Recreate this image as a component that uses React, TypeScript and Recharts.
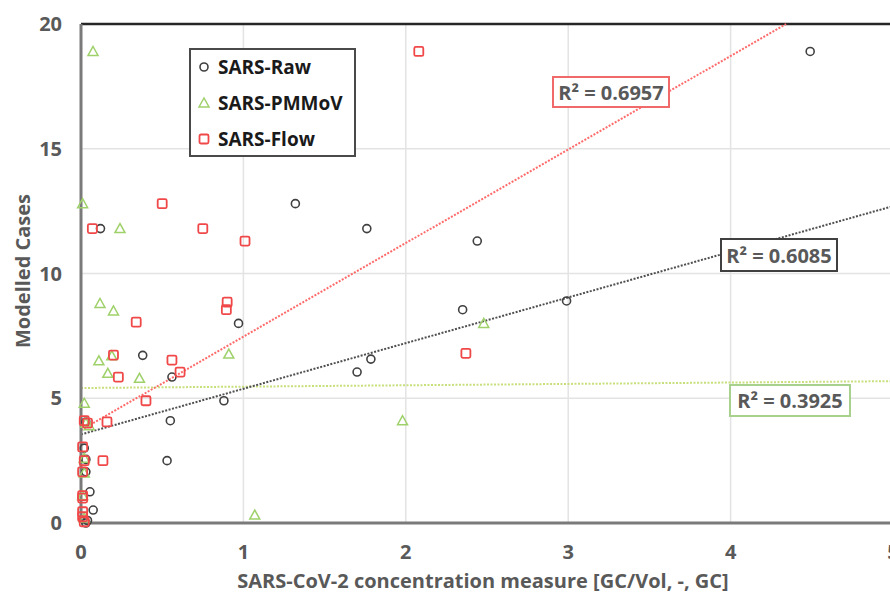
import React from "react";
import { ScatterChart, Scatter, XAxis, YAxis, CartesianGrid, ReferenceLine } from "recharts";

const xTicks = [0, 1, 2, 3, 4, 5];
const yTicks = [0, 5, 10, 15, 20];

const rawData = [
  { x: 4.49, y: 18.9 }, { x: 1.32, y: 12.8 }, { x: 1.76, y: 11.8 }, { x: 2.44, y: 11.3 },
  { x: 0.12, y: 11.8 }, { x: 2.35, y: 8.55 }, { x: 2.99, y: 8.9 }, { x: 0.97, y: 8.0 },
  { x: 0.38, y: 6.72 }, { x: 1.7, y: 6.05 }, { x: 1.785, y: 6.57 }, { x: 0.56, y: 5.85 },
  { x: 0.88, y: 4.9 }, { x: 0.55, y: 4.1 }, { x: 0.53, y: 2.5 }, { x: 0.03, y: 4.05 },
  { x: 0.02, y: 3.0 }, { x: 0.03, y: 2.55 }, { x: 0.03, y: 2.05 }, { x: 0.055, y: 1.25 },
  { x: 0.075, y: 0.52 }, { x: 0.04, y: 0.1 }, { x: 0.03, y: 0.0 },
];

const pmmovData = [
  { x: 0.074, y: 18.9 }, { x: 0.01, y: 12.8 }, { x: 0.24, y: 11.8 }, { x: 0.117, y: 8.8 },
  { x: 0.2, y: 8.5 }, { x: 0.11, y: 6.5 }, { x: 0.19, y: 6.7 }, { x: 0.165, y: 6.0 },
  { x: 0.36, y: 5.8 }, { x: 0.91, y: 6.77 }, { x: 2.48, y: 8.0 }, { x: 1.98, y: 4.1 },
  { x: 1.07, y: 0.32 }, { x: 0.02, y: 4.8 }, { x: 0.03, y: 4.0 }, { x: 0.05, y: 3.9 },
  { x: 0.02, y: 2.6 }, { x: 0.02, y: 2.0 }, { x: 0.01, y: 1.1 }, { x: 0.02, y: 0.2 },
];

const flowData = [
  { x: 2.08, y: 18.9 }, { x: 0.5, y: 12.8 }, { x: 0.07, y: 11.8 }, { x: 0.75, y: 11.8 },
  { x: 1.01, y: 11.3 }, { x: 0.9, y: 8.85 }, { x: 0.895, y: 8.55 }, { x: 0.34, y: 8.05 },
  { x: 0.2, y: 6.73 }, { x: 0.56, y: 6.53 }, { x: 0.61, y: 6.05 }, { x: 0.23, y: 5.85 },
  { x: 0.4, y: 4.9 }, { x: 0.16, y: 4.05 }, { x: 0.135, y: 2.5 }, { x: 2.37, y: 6.8 },
  { x: 0.02, y: 4.1 }, { x: 0.04, y: 4.0 }, { x: 0.01, y: 3.05 }, { x: 0.02, y: 2.5 },
  { x: 0.01, y: 2.05 }, { x: 0.01, y: 1.1 }, { x: 0.01, y: 1.0 }, { x: 0.01, y: 0.45 },
  { x: 0.01, y: 0.25 }, { x: 0.02, y: 0.05 },
];

// trendline intercept, slope
const rawTrend = [3.55, 1.83];
const pmmovTrend = [5.41, 0.055];
const flowTrend = [3.72, 3.75];
const r2Labels = ["R² = 0.6085", "R² = 0.3925", "R² = 0.6957"];

const RAW_C = "#404040";
const PM_C = "#9fd16a";
const FLOW_C = "#f04848";
const TEXT_C = "#595959";
const FONT = "'Open Sans', 'Noto Sans', sans-serif";

const X_MAX = 5;
const Y_MAX = 20;

function segment(t: number[]) {
  const [b, m] = t;
  let xEnd = X_MAX;
  let yEnd = b + m * X_MAX;
  if (yEnd > Y_MAX) {
    xEnd = (Y_MAX - b) / m;
    yEnd = Y_MAX;
  }
  return [{ x: 0, y: b }, { x: xEnd, y: yEnd }];
}

const CircleShape = (p: any) => (
  <circle cx={p.cx} cy={p.cy} r={4} fill="none" stroke={RAW_C} strokeWidth={1.6} />
);
const TriShape = (p: any) => (
  <polygon
    points={`${p.cx},${p.cy - 5} ${p.cx - 5},${p.cy + 4} ${p.cx + 5},${p.cy + 4}`}
    fill="none"
    stroke={PM_C}
    strokeWidth={1.5}
  />
);
const SquareShape = (p: any) => (
  <rect x={p.cx - 4.5} y={p.cy - 4.5} width={9} height={9} rx={1.5} fill="none" stroke={FLOW_C} strokeWidth={1.8} />
);

const legendItems = [
  { name: "SARS-Raw", Shape: CircleShape },
  { name: "SARS-PMMoV", Shape: TriShape },
  { name: "SARS-Flow", Shape: SquareShape },
];

const boxStyle = (left: number, top: number, w: number, h: number, border: string): React.CSSProperties => ({
  position: "absolute",
  left,
  top,
  width: w,
  height: h,
  boxSizing: "border-box",
  border: `2px solid ${border}`,
  background: "white",
  color: TEXT_C,
  fontFamily: FONT,
  fontWeight: 700,
  fontSize: 20,
  display: "flex",
  alignItems: "center",
  justifyContent: "center",
  whiteSpace: "nowrap",
});

export default function App() {
  const tickStyle = { fill: TEXT_C, fontSize: 20, fontWeight: 700, fontFamily: FONT };
  return (
    <div style={{ position: "fixed", left: 0, top: 0, width: 890, height: 593, overflow: "hidden", background: "white" }}>
      <ScatterChart width={915} height={593} margin={{ top: 24, right: 22, left: 0, bottom: 0 }}>
        <CartesianGrid stroke="#e3e3e3" strokeWidth={1.5} />
        <XAxis
          type="number"
          dataKey="x"
          domain={[0, X_MAX]}
          ticks={xTicks}
          interval={0}
          height={70}
          tickSize={0}
          tickMargin={22}
          tick={tickStyle}
          axisLine={{ stroke: "#7a7a7a", strokeWidth: 3 }}
        />
        <YAxis
          type="number"
          dataKey="y"
          domain={[0, Y_MAX]}
          ticks={yTicks}
          interval={0}
          width={81}
          tickSize={0}
          tickMargin={19}
          tick={tickStyle}
          axisLine={{ stroke: "#7a7a7a", strokeWidth: 3 }}
        />
        <ReferenceLine y={Y_MAX} stroke="#262626" strokeWidth={2.5} />
        <Scatter name="SARS-Raw" data={rawData} shape={CircleShape} isAnimationActive={false} />
        <Scatter name="SARS-PMMoV" data={pmmovData} shape={TriShape} isAnimationActive={false} />
        <Scatter name="SARS-Flow" data={flowData} shape={SquareShape} isAnimationActive={false} />
        <ReferenceLine segment={segment(pmmovTrend)} stroke="#c8e07c" strokeWidth={2} strokeDasharray="2 1.5" />
        <ReferenceLine segment={segment(rawTrend)} stroke="#505050" strokeWidth={2} strokeDasharray="2 1.5" />
        <ReferenceLine segment={segment(flowTrend)} stroke="#ff6a6a" strokeWidth={2} strokeDasharray="2 1.5" />
      </ScatterChart>

      <div
        style={{
          position: "absolute",
          left: 22,
          top: 271,
          transform: "translate(-50%, -50%) rotate(-90deg)",
          color: TEXT_C,
          fontFamily: FONT,
          fontWeight: 700,
          fontSize: 20,
          whiteSpace: "nowrap",
        }}
      >
        Modelled Cases
      </div>
      <div
        style={{
          position: "absolute",
          left: 483,
          top: 580,
          transform: "translate(-50%, -50%)",
          color: TEXT_C,
          fontFamily: FONT,
          fontWeight: 700,
          fontSize: 20,
          whiteSpace: "nowrap",
        }}
      >
        SARS-CoV-2 concentration measure [GC/Vol, -, GC]
      </div>

      <div
        style={{
          position: "absolute",
          left: 189,
          top: 48,
          width: 167,
          height: 109,
          boxSizing: "border-box",
          border: "2px solid #4a4a4a",
          background: "white",
          fontFamily: FONT,
          fontWeight: 700,
          fontSize: 19,
          color: "#1a1a1a",
        }}
      >
        {legendItems.map((it, i) => (
          <div key={it.name} style={{ position: "absolute", left: 5, top: 3 + i * 36, height: 28, display: "flex", alignItems: "center" }}>
            <svg width={16} height={16} style={{ marginRight: 6 }}>
              <it.Shape cx={8} cy={8} />
            </svg>
            <span>{it.name}</span>
          </div>
        ))}
      </div>

      <div style={boxStyle(552, 76, 118, 32, "#f06a6a")}>{r2Labels[2]}</div>
      <div style={boxStyle(720, 238, 118, 34, "#404040")}>{r2Labels[0]}</div>
      <div style={boxStyle(729, 384, 122, 33, "#a9d18e")}>{r2Labels[1]}</div>
    </div>
  );
}
